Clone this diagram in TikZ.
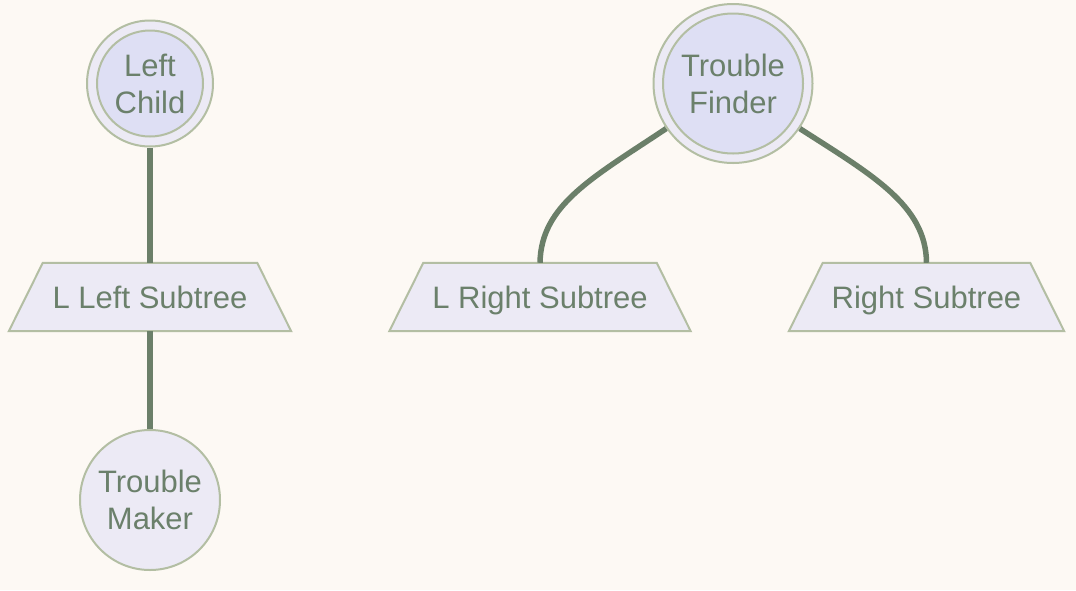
\documentclass[tikz,border=0pt]{standalone}
\usepackage{fontspec}
\setmainfont{Liberation Sans}
\definecolor{bg}{HTML}{FDF9F4}
\definecolor{inner}{HTML}{DEDFF4}
\definecolor{ring}{HTML}{ECEAF5}
\definecolor{stroke}{HTML}{B3BEA3}
\definecolor{txt}{HTML}{6B806B}
\definecolor{edge}{HTML}{6B7F69}
\pgfdeclarelayer{back}
\pgfsetlayers{back,main}
\tikzset{
  ringnode/.style={circle, draw=stroke, fill=ring, line width=2pt, inner sep=0pt},
  innernode/.style={circle, draw=stroke, fill=inner, line width=2pt, inner sep=0pt, text=txt, font=\fontsize{31}{37}\selectfont, align=center},
  plainnode/.style={circle, draw=stroke, fill=ring, line width=2pt, inner sep=0pt, text=txt, font=\fontsize{31}{37}\selectfont, align=center},
  trapbox/.style={rectangle, inner sep=0pt, minimum height=68pt, text height=22.2pt, text depth=0pt, text=txt, font=\fontsize{31}{37}\selectfont},
  trapline/.style={draw=stroke, fill=ring, line width=2pt, line join=miter},
  link/.style={draw=edge, line width=5.5pt}
}
\newcommand{\trapdraw}[1]{%
  \begin{pgfonlayer}{back}
  \path[trapline] ([xshift=34pt]#1.north west) -- ([xshift=-34pt]#1.north east) -- (#1.south east) -- (#1.south west) -- cycle;
  \end{pgfonlayer}}
\begin{document}
\begin{tikzpicture}[x=1pt, y=-1pt]
\begin{pgfonlayer}{back}
\fill[bg] (0,0) rectangle (1076,590);
\end{pgfonlayer}
\useasboundingbox (0,0) rectangle (1076,590);
% nodes
\node[ringnode, minimum size=126pt] (lc) at (150,83.5) {};
\node[innernode, minimum size=106pt] (lci) at (150,83.5) {Left\\Child};
\node[ringnode, minimum size=159pt] (tf) at (733,83.5) {};
\node[innernode, minimum size=140pt] (tfi) at (733,83.5) {Trouble\\Finder};
\node[trapbox, minimum width=282pt] (lls) at (150,297) {L Left Subtree};
\node[trapbox, minimum width=301pt] (lrs) at (540,297) {L Right Subtree};
\node[trapbox, minimum width=275pt] (rs) at (926.5,297) {Right Subtree};
\trapdraw{lls}
\trapdraw{lrs}
\trapdraw{rs}
\node[plainnode, minimum size=140pt] (tm) at (150,500) {Trouble\\Maker};
% connectors
\begin{pgfonlayer}{back}
\draw[link] (lc) -- (lls);
\draw[link] (lls) -- (tm);
\draw[link] (tf.214) .. controls (592,178) and (541,205) .. (lrs.north);
\draw[link] (tf.326) .. controls (872,175) and (926,205) .. (rs.north);
\end{pgfonlayer}
\end{tikzpicture}
\end{document}
